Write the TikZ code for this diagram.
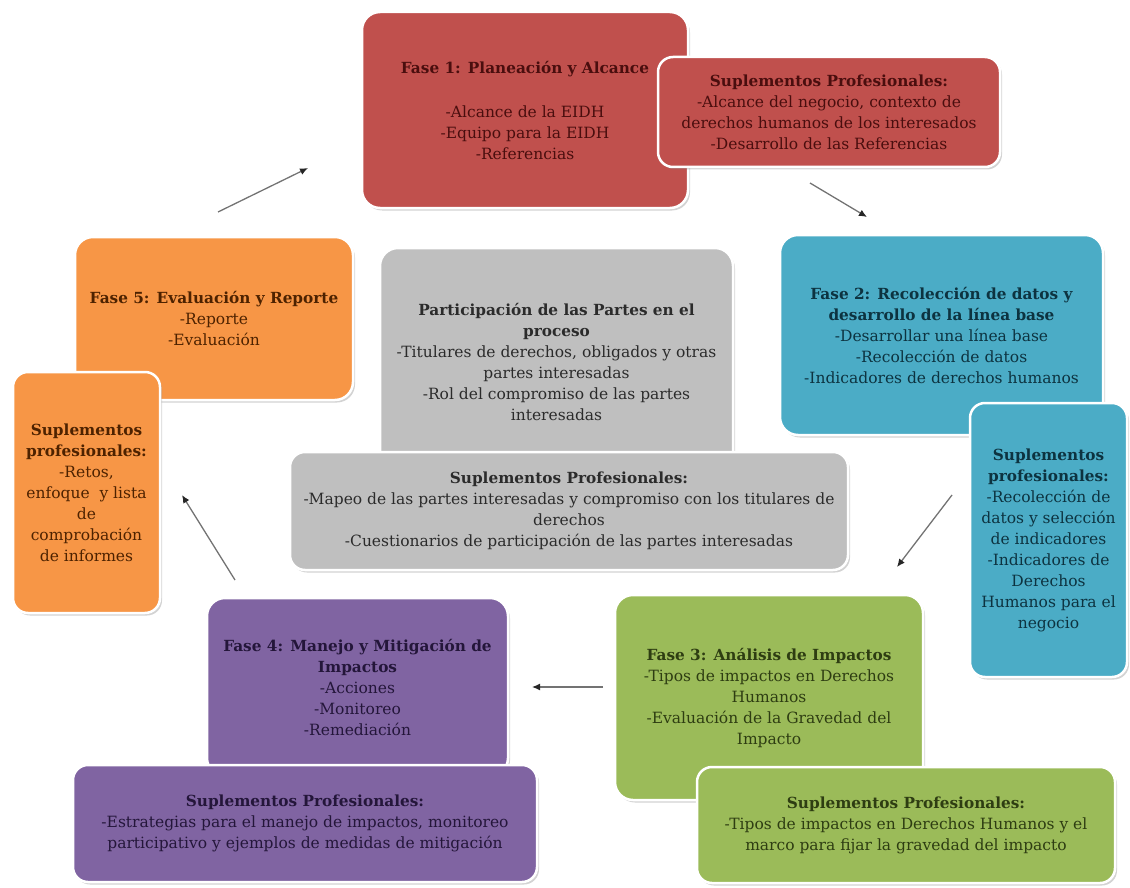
\documentclass[tikz,border=0pt]{standalone}
\usepackage{fontspec}
\setmainfont{DejaVu Serif}
\usetikzlibrary{shadows,arrows.meta}
\definecolor{cRed}{HTML}{C0504D}
\definecolor{cBlue}{HTML}{4BACC6}
\definecolor{cOrange}{HTML}{F79646}
\definecolor{cGray}{HTML}{BFBFBF}
\definecolor{cPurple}{HTML}{8064A2}
\definecolor{cGreen}{HTML}{9BBB59}
\definecolor{tRed}{HTML}{4A0E0E}
\definecolor{tBlue}{HTML}{0D3340}
\definecolor{tOrange}{HTML}{4D2200}
\definecolor{tGray}{HTML}{2B2B2B}
\definecolor{tPurple}{HTML}{24163A}
\definecolor{tGreen}{HTML}{2E3D12}
\newcommand\hd[1]{{\fontsize{15.3}{21}\selectfont\bfseries #1}}
\tikzset{
  box/.style={rounded corners=18pt, draw=white, line width=2.5pt,
    drop shadow={shadow xshift=2pt, shadow yshift=-2.5pt, opacity=0.35},
    inner sep=0pt, align=center, font=\fontsize{15.5}{21}\selectfont},
  arr/.style={draw=black!55, line width=1.3pt,
    -{Latex[length=8pt,width=7pt,color=black!85]}}
}
\begin{document}
\begin{tikzpicture}[x=1pt,y=-1pt]
\useasboundingbox (0,0) rectangle (1130,888);
% Fase 1
\node[box, fill=cRed, text=tRed, minimum width=326pt, minimum height=196pt] (f1) at (525,110)
  {\hd{Fase 1: Planeación y Alcance}\\[23pt]-Alcance de la EIDH\\-Equipo para la EIDH\\-Referencias};
\node[box, fill=cRed, text=tRed, minimum width=342pt, minimum height=110pt, rounded corners=15pt] (s1) at (829,112)
  {\hd{Suplementos Profesionales:}\\-Alcance del negocio, contexto de\\derechos humanos de los interesados\\-Desarrollo de las Referencias};
% Fase 2
\node[box, fill=cBlue, text=tBlue, minimum width=323pt, minimum height=200pt] (f2) at (941.5,335)
  {\hd{Fase 2: Recolección de datos y}\\\hd{desarrollo de la línea base}\\-Desarrollar una línea base\\-Recolección de datos\\-Indicadores de derechos humanos};
\node[box, fill=cBlue, text=tBlue, minimum width=157pt, minimum height=274pt, rounded corners=15pt] (s2) at (1048.5,540)
  {\hd{Suplementos}\\\hd{profesionales:}\\-Recolección de\\datos y selección\\de indicadores\\-Indicadores de\\Derechos\\Humanos para el\\negocio};
% Fase 5
\node[box, fill=cOrange, text=tOrange, minimum width=278pt, minimum height=163pt] (f5) at (214,318.5)
  {\hd{Fase 5: Evaluación y Reporte}\\-Reporte\\-Evaluación};
\node[box, fill=cOrange, text=tOrange, minimum width=147pt, minimum height=241pt, rounded corners=15pt] (s5) at (86.5,492.5)
  {\hd{Suplementos}\\\hd{profesionales:}\\-Retos,\\enfoque~ y lista\\de\\comprobación\\de informes};
% Participacion
\node[box, fill=cGray, text=tGray, minimum width=353pt, minimum height=228pt] (g) at (556.5,362)
  {\hd{Participación de las Partes en el}\\\hd{proceso}\\-Titulares de derechos, obligados y otras\\partes interesadas\\-Rol del compromiso de las partes\\interesadas};
\node[box, fill=cGray, text=tGray, minimum width=558pt, minimum height=118pt, rounded corners=15pt] (gs) at (569,511)
  {\hd{Suplementos Profesionales:}\\-Mapeo de las partes interesadas y compromiso con los titulares de\\derechos\\-Cuestionarios de participación de las partes interesadas};
% Fase 4
\node[box, fill=cPurple, text=tPurple, minimum width=301pt, minimum height=178pt] (f4) at (357.5,687)
  {\hd{Fase 4: Manejo y Mitigación de}\\\hd{Impactos}\\-Acciones\\-Monitoreo\\-Remediación};
\node[box, fill=cPurple, text=tPurple, minimum width=464pt, minimum height=117pt, rounded corners=15pt] (s4) at (305,823.5)
  {\hd{Suplementos Profesionales:}\\-Estrategias para el manejo de impactos, monitoreo\\participativo y ejemplos de medidas de mitigación};
% Fase 3
\node[box, fill=cGreen, text=tGreen, minimum width=308pt, minimum height=205pt] (f3) at (769,697.5)
  {\hd{Fase 3: Análisis de Impactos}\\-Tipos de impactos en Derechos\\Humanos\\-Evaluación de la Gravedad del\\Impacto};
\node[box, fill=cGreen, text=tGreen, minimum width=418pt, minimum height=116pt, rounded corners=15pt] (s3) at (906,825)
  {\hd{Suplementos Profesionales:}\\-Tipos de impactos en Derechos Humanos y el\\marco para fijar la gravedad del impacto};
% arrows
\coordinate (a1s) at (218,212); \coordinate (a1e) at (308,168);
\coordinate (a2s) at (810,183); \coordinate (a2e) at (867,217);
\coordinate (a3s) at (952,495); \coordinate (a3e) at (897,567);
\coordinate (a4s) at (603,687); \coordinate (a4e) at (532,687);
\coordinate (a5s) at (235,580); \coordinate (a5e) at (182,495);
\draw[arr] (a1s) -- (a1e);
\draw[arr] (a2s) -- (a2e);
\draw[arr] (a3s) -- (a3e);
\draw[arr] (a4s) -- (a4e);
\draw[arr] (a5s) -- (a5e);
\end{tikzpicture}
\end{document}
